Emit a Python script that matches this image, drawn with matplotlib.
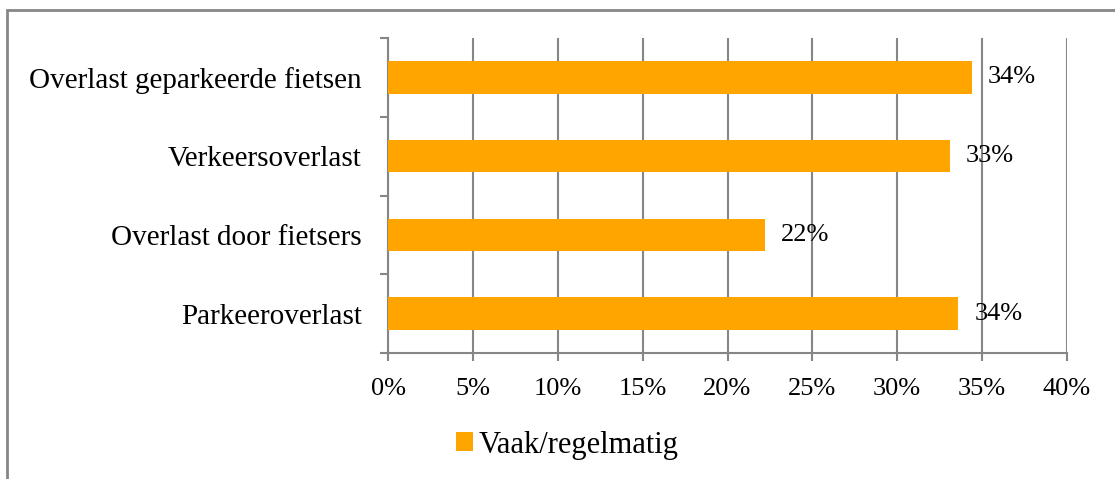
import matplotlib.pyplot as plt
from matplotlib.patches import Rectangle

# data, top to bottom
categories = ['Overlast geparkeerde fietsen', 'Verkeersoverlast',
              'Overlast door fietsers', 'Parkeeroverlast']
values = [34.4, 33.1, 22.2, 33.6]
labels = ['34%', '33%', '22%', '34%']
series_name = 'Vaak/regelmatig'
xticks = [0, 5, 10, 15, 20, 25, 30, 35, 40]

orange = '#FFA500'
grey = '#868686'

plt.rcParams['font.family'] = ['Liberation Serif', 'DejaVu Serif']

fig = plt.figure(figsize=(11.15, 4.79), dpi=100)

# outer frame (cut off at right and bottom)
fig.patches.append(Rectangle((6.5 / 1115, -0.05), 1.2, 1 - 9.5 / 479 + 0.05,
                             transform=fig.transFigure, fill=False,
                             edgecolor=grey, linewidth=2))

ax = fig.add_axes([388 / 1115, 1 - 353 / 479, (1067 - 388) / 1115, (353 - 38) / 479])

n = len(categories)
pos = [n - 1 - i for i in range(n)]
bars = ax.barh(pos, values, height=0.41, color=orange, zorder=3, label=series_name)

for p, v, lab in zip(pos, values, labels):
    ax.text(v + 0.95, p, lab, va='center', ha='left', fontsize=19, zorder=4)

ax.set_xlim(0, 40)
ax.set_ylim(-0.5, n - 0.5)
ax.set_xticks(xticks)
ax.set_xticklabels(['%d%%' % t for t in xticks], fontsize=19)
ax.xaxis.grid(True, color=grey, linewidth=1.5, zorder=0)
ax.set_axisbelow(True)

# category labels in the middle, ticks on the boundaries
ax.set_yticks(pos)
ax.set_yticklabels(categories, fontsize=21)
ax.set_yticks([i - 0.5 for i in range(n + 1)], minor=True)
ax.tick_params(axis='y', which='major', length=0, pad=19)
ax.tick_params(axis='y', which='minor', length=6, width=1.5, color=grey)
ax.tick_params(axis='x', length=6, width=1.5, color=grey, pad=12)

for s in ['top', 'right']:
    ax.spines[s].set_visible(False)
for s in ['left', 'bottom']:
    ax.spines[s].set_color(grey)
    ax.spines[s].set_linewidth(1.5)

fig.legend(handles=[bars], labels=[series_name], loc='center left',
           bbox_to_anchor=(456 / 1115, 1 - 445 / 479), frameon=False,
           borderaxespad=0, borderpad=0,
           fontsize=22, handlelength=0.55, handleheight=0.55, handletextpad=0.2)

fig.savefig('out.png', dpi=100)
